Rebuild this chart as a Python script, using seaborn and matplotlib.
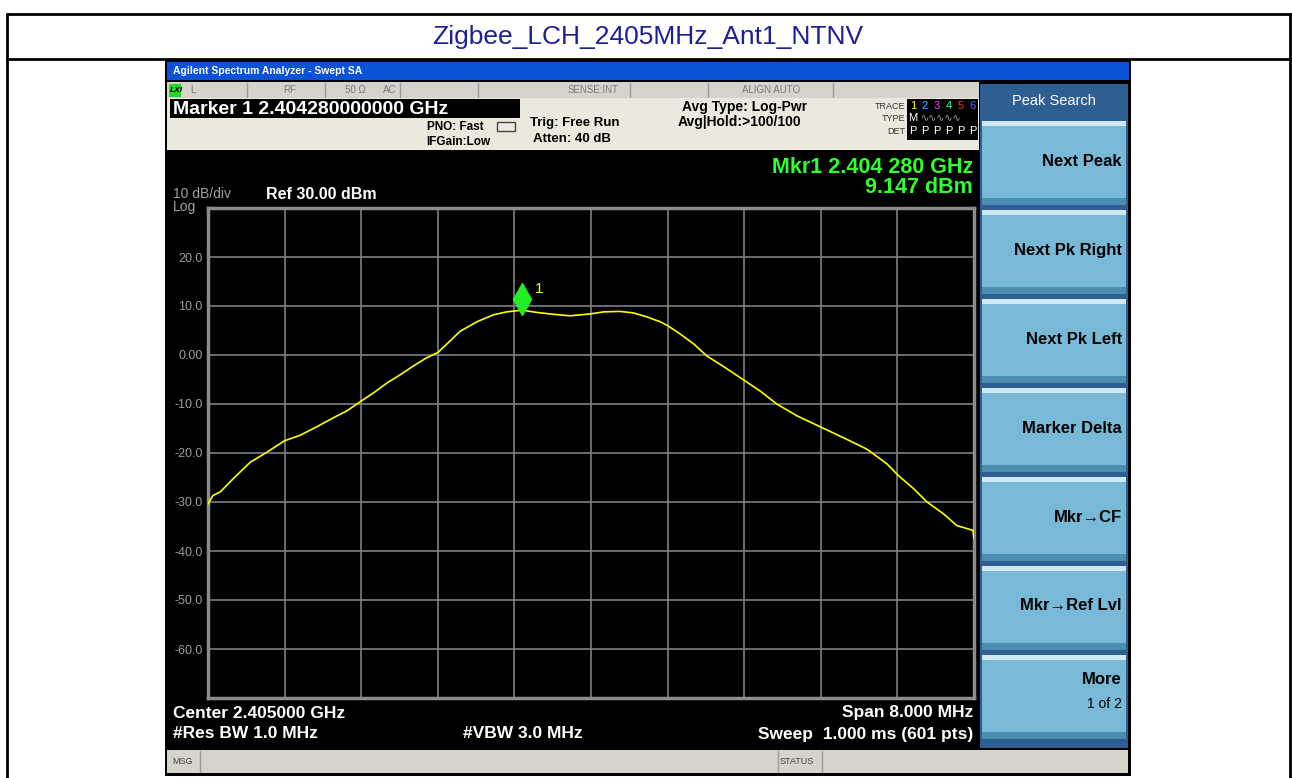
import matplotlib
matplotlib.use("Agg")
import matplotlib.pyplot as plt
import matplotlib.transforms as mtransforms
from matplotlib.patches import Rectangle
import seaborn as sns
import pandas as pd

# trace: offset from centre (MHz) and level (dBm)
offset_mhz = [-4.00, -3.95, -3.87, -3.74, -3.56, -3.39, -3.20, -3.04, -2.86, -2.69,
              -2.55, -2.40, -2.27, -2.13, -1.99, -1.86, -1.72, -1.60, -1.47, -1.37,
              -1.19, -1.02, -0.88, -0.72, -0.57, -0.39, -0.22, 0.00, 0.13, 0.30,
              0.44, 0.58, 0.72, 0.80, 0.93, 1.07, 1.21, 1.38, 1.61, 1.77,
              1.94, 2.15, 2.41, 2.67, 2.88, 3.09, 3.21, 3.37, 3.51, 3.68,
              3.82, 3.99, 4.00]
level_dbm = [-30.4, -28.7, -27.9, -25.3, -21.9, -19.9, -17.5, -16.4, -14.6, -12.8,
             -11.4, -9.4, -7.7, -5.7, -4.0, -2.3, -0.6, 0.5, 2.9, 4.8,
             6.8, 8.2, 8.8, 9.15, 8.7, 8.3, 8.0, 8.4, 8.8, 8.9,
             8.6, 7.8, 6.8, 6.0, 4.3, 2.3, -0.2, -2.3, -5.3, -7.4,
             -10.0, -12.4, -14.8, -17.2, -19.2, -22.2, -24.6, -27.3, -30.0, -32.4,
             -34.8, -35.8, -37.5]

center_mhz = 2405.0
span_mhz = 8.0
ref_level = 30.0
db_per_div = 10
marker_mhz = 2404.28
marker_dbm = 9.147

y_ticks = [-70, -60, -50, -40, -30, -20, -10, 0, 10, 20, 30]
y_labels = ["", "-60.0", "-50.0", "-40.0", "-30.0", "-20.0", "-10.0", "0.00", "10.0", "20.0", ""]

softkeys = ["Next Peak", "Next Pk Right", "Next Pk Left", "Marker Delta",
            "Mkr\u2192CF", "Mkr\u2192Ref Lvl", "More"]

sns.set_theme(style="dark")
plt.rcParams['font.family'] = ['Liberation Sans', 'DejaVu Sans']

W, H = 1292, 778
fig = plt.figure(figsize=(W / 100, H / 100), dpi=100, facecolor="white")

# background layer in pixel coordinates
bg = fig.add_axes([0, 0, 1, 1])
bg.set_xlim(0, W)
bg.set_ylim(H, 0)
bg.axis("off")


def box(x0, y0, x1, y1, color, **kw):
    bg.add_patch(Rectangle((x0, y0), x1 - x0, y1 - y0, facecolor=color,
                           edgecolor=kw.pop("ec", "none"), lw=kw.pop("lw", 0), **kw))


def txt(x, y, s, size=9, color="black", weight="normal", ha="left", **kw):
    bg.text(x, y, s, fontsize=size, color=color, fontweight=weight, ha=ha,
            va="center", **kw)


# report table frame
bg.plot([7, 1292], [14, 14], color="black", lw=2)
bg.plot([7, 1292], [59, 59], color="black", lw=2)
bg.plot([7, 7], [14, 778], color="black", lw=2)
bg.plot([1290, 1290], [14, 778], color="black", lw=2)
txt(648, 37, "Zigbee_LCH_2405MHz_Ant1_NTNV", size=19, color="#1f1f96", ha="center")

# analyzer window
box(165, 60, 1131, 776, "black")
box(167, 62, 1129, 80, "#0a52d8")
txt(173, 71, "Agilent Spectrum Analyzer - Swept SA", size=7.5, color="white", weight="bold")

# status row
box(167, 82, 979, 98, "#d6d3cc")
box(169, 84, 181, 97, "#22d822")
txt(170, 90, "LXI", size=6, weight="bold", style="italic")
for xs in [247, 325, 400, 478, 630, 708, 833]:
    bg.plot([xs, xs], [83, 97], color="#9a9a9a", lw=1)
for x, s in [(190, "L"), (283, "RF"), (345, "50 \u03a9"), (383, "AC"),
             (568, "SENSE:INT"), (742, "ALIGN AUTO")]:
    txt(x, 90, s, size=7, color="#777777")

# settings area
box(167, 98, 979, 150, "#ebe8dd")
box(170, 99, 520, 118, "black")
txt(173, 109, "Marker 1 2.404280000000 GHz", size=14, color="white", weight="bold")
txt(484, 127, "PNO: Fast", size=8.5, weight="bold", ha="right")
txt(490, 142, "IFGain:Low", size=8.5, weight="bold", ha="right")
bg.add_patch(Rectangle((497, 122), 18, 9, facecolor="none", edgecolor="#444444", lw=1))
txt(530, 123, "Trig: Free Run", size=9.5, weight="bold")
txt(533, 139, "Atten: 40 dB", size=9.5, weight="bold")
txt(682, 107, "Avg Type: Log-Pwr", size=10, weight="bold")
txt(678, 122, "Avg|Hold:>100/100", size=10, weight="bold")
txt(905, 106, "TRACE", size=6.5, color="#333333", ha="right")
txt(905, 118, "TYPE", size=6.5, color="#333333", ha="right")
txt(905, 131, "DET", size=6.5, color="#333333", ha="right")
box(907, 99, 978, 140, "black")
for i, c in enumerate(["#ffff33", "#33ccff", "#ff33ff", "#33ff99", "#ff3333", "#6666ff"]):
    txt(913 + i * 12, 106, str(i + 1), size=8, color=c, ha="center")
    txt(913 + i * 12, 131, "P", size=8, color="white", ha="center")
txt(913, 118, "M", size=8, color="white", ha="center")
txt(921, 118, "\u223f\u223f\u223f\u223f\u223f", size=7, color="#aaaaaa")

# softkey panel
box(980, 84, 1128, 748, "#2f5f92")
txt(1054, 101, "Peak Search", size=10.5, color="white", ha="center")
top = 121
for i, key in enumerate(softkeys):
    y0 = top + i * 89
    y1 = y0 + 84
    box(982, y0, 1126, y1, "#78b9d8")
    box(982, y0, 1126, y0 + 5, "#cfe8f4")
    box(982, y1 - 7, 1126, y1, "#4a8db0")
    if key == "More":
        txt(1122, y0 + 25, key, size=12, weight="bold", ha="right")
        txt(1122, y0 + 49, "1 of 2", size=10, ha="right")
    else:
        txt(1122, (y0 + y1) / 2 - 2, key, size=12, weight="bold", ha="right")

# bottom message bar
box(167, 750, 1128, 773, "#d6d3cc")
for xs in [200, 778, 822]:
    bg.plot([xs, xs], [751, 772], color="#9a9a9a", lw=1)
txt(172, 762, "MSG", size=6.5, color="#444444")
txt(780, 762, "STATUS", size=6.5, color="#444444")

# display texts
txt(173, 194, "10 dB/div", size=10, color="#a0a0a0")
txt(173, 207, "Log", size=10, color="#a0a0a0")
txt(266, 194, "Ref 30.00 dBm", size=11.5, color="white", weight="bold")
txt(973, 167, "Mkr1 2.404 280 GHz", size=15.5, color="#2eff2e", weight="bold", ha="right")
txt(973, 187, "9.147 dBm", size=15.5, color="#2eff2e", weight="bold", ha="right")
txt(173, 713, "Center 2.405000 GHz", size=12.5, color="white", weight="bold")
txt(973, 713, "Span 8.000 MHz", size=12.5, color="white", weight="bold", ha="right")
txt(173, 734, "#Res BW 1.0 MHz", size=12.5, color="white", weight="bold")
txt(463, 734, "#VBW 3.0 MHz", size=12.5, color="white", weight="bold")
txt(973, 734, "Sweep  1.000 ms (601 pts)", size=12.5, color="white", weight="bold", ha="right")

# the graticule
ax = fig.add_axes([208 / W, 1 - 698 / H, 766 / W, 490 / H])
ax.set_facecolor("black")
df = pd.DataFrame({"freq": [center_mhz + o for o in offset_mhz], "level": level_dbm})
sns.lineplot(data=df, x="freq", y="level", ax=ax, color="#ffff00", lw=1.2,
             sort=False, estimator=None, zorder=3)

x_ticks = [center_mhz - span_mhz / 2 + k * span_mhz / 10 for k in range(11)]
ax.set_xlim(x_ticks[0], x_ticks[-1])
ax.set_ylim(ref_level - 10 * db_per_div, ref_level)
ax.set_xticks(x_ticks)
ax.set_xticklabels([])
ax.set_yticks(y_ticks)
ax.set_yticklabels(y_labels)
ax.tick_params(length=0, pad=4, labelsize=9, labelcolor="#9c9c9c")
ax.grid(True, color="#7f7f7f", lw=1.2)
ax.set_xlabel("")
ax.set_ylabel("")
for sp in ax.spines.values():
    sp.set_visible(True)
    sp.set_color("#8c8c8c")
    sp.set_linewidth(2.5)

mk_tr = mtransforms.offset_copy(ax.transData, fig=fig, x=0, y=8, units="points")
ax.plot([marker_mhz], [marker_dbm], marker="d", markersize=16, color="#22ee22",
        mec="#22ee22", transform=mk_tr, zorder=4, clip_on=False)
ax.annotate("1", (marker_mhz, marker_dbm), xytext=(9, 15), textcoords="offset points",
            color="#ffff00", fontsize=11, va="center", ha="left")

fig.savefig("out.png", dpi=100, facecolor="white")
